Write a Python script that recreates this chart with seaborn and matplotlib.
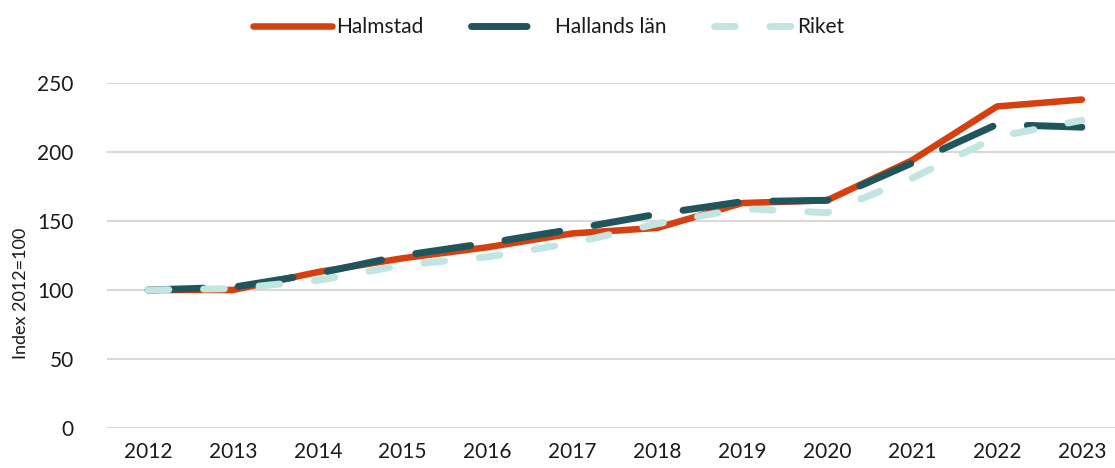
import matplotlib
matplotlib.use("Agg")
import matplotlib.pyplot as plt
import seaborn as sns
import pandas as pd

years = list(range(2012, 2024))
halmstad = [100, 100, 113, 123, 131, 141, 145, 163, 165, 194, 233, 238]
hallands = [100, 102, 112, 125, 134, 144, 155, 164, 165, 192, 220, 218]
riket = [100, 101, 107, 118, 124, 134, 148, 159, 156, 181, 211, 223]
series_names = ["Halmstad", "Hallands län", "Riket"]
y_ticks = [0, 50, 100, 150, 200, 250]
y_label = "Index 2012=100"

sns.set_theme(style="white")
plt.rcParams["font.family"] = ["Lato", "DejaVu Sans"]
txt = "#1a1a1a"

df = pd.DataFrame({
    "year": years * 3,
    "value": halmstad + hallands + riket,
    "series": [series_names[0]] * 12 + [series_names[1]] * 12 + [series_names[2]] * 12,
})

colors = {"Halmstad": "#D63F0E", "Hallands län": "#1F565E", "Riket": "#C2E5E1"}
dashes = {"Halmstad": "", "Hallands län": (8.0, 5.0), "Riket": (3.0, 5.0)}

fig = plt.figure(figsize=(11.15, 4.68), dpi=100)
ax = fig.add_axes([107 / 1115, 1 - 428 / 468, 1 - 107 / 1115, (428 - 83) / 468])

sns.lineplot(data=df, x="year", y="value", hue="series", style="series",
             palette=colors, dashes=dashes, hue_order=series_names,
             style_order=series_names, ax=ax, legend=False,
             linewidth=5, zorder=3)
lines = ax.get_lines()
for ln, lw in zip(lines, [4.7, 5.0, 5.0]):
    ln.set_linewidth(lw)
    ln.set_solid_capstyle("round")
    ln.set_dash_capstyle("round")
    ln.set_clip_on(False)

ax.set_xlim(2012 - 0.483, 2023 + 0.39)
ax.set_ylim(0, 250)
ax.set_yticks(y_ticks)
ax.set_xticks(years)
ax.set_xticklabels([str(y) for y in years])
ax.grid(axis="y", color="#D9D9D9", linewidth=1.5)
ax.grid(axis="x", visible=False)
for s in ax.spines.values():
    s.set_visible(False)
ax.tick_params(axis="both", length=0, labelsize=15, labelcolor=txt)
ax.tick_params(axis="y", pad=24)
ax.tick_params(axis="x", pad=10)
ax.set_xlabel("")
ax.set_ylabel(y_label, fontsize=13, color=txt, labelpad=8)
ax.yaxis.set_label_coords(-0.077, 0.39)

leg = fig.legend(lines, series_names, loc="center", bbox_to_anchor=(0.492, 1 - 27 / 468),
                 ncol=3, frameon=False, fontsize=15, handlelength=3.8,
                 columnspacing=2.3, handletextpad=0.2)
for t in leg.get_texts():
    t.set_color(txt)

fig.savefig("out.png", dpi=100)
